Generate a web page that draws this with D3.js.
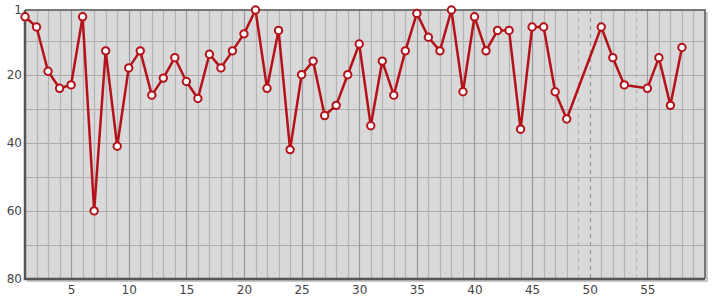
<!DOCTYPE html>
<html>
<head>
<meta charset="utf-8">
<script src="https://cdn.jsdelivr.net/npm/d3@7"></script>
<style>
  body { margin: 0; background: #fff; }
  svg text { font-family: "DejaVu Sans", sans-serif; font-size: 12px; fill: #444; }
</style>
</head>
<body>
<svg id="chart" width="715" height="300"></svg>
<script>
// positions 1..58, null = no value (gap)
const xs_vals = d3.range(1, 59);
const ranks = [3, 6, 19, 24, 23, 3, 60, 13, 41, 18,
               13, 26, 21, 15, 22, 27, 14, 18, 13, 8,
               1, 24, 7, 42, 20, 16, 32, 29, 20, 11,
               35, 16, 26, 13, 2, 9, 13, 1, 25, 3,
               13, 7, 7, 36, 6, 6, 25, 33, null, null,
               6, 15, 23, null, 24, 15, 29, 12];
const xTicks = [5, 10, 15, 20, 25, 30, 35, 40, 45, 50, 55];
const yTicks = [1, 20, 40, 60, 80];
const yGrid = [10, 20, 30, 40, 50, 60, 70];

const data = xs_vals.map((x, i) => ({ x: x, y: ranks[i] }));
const points = data.filter(d => d.y !== null);
const gaps = data.filter(d => d.y === null).map(d => d.x);

const pl = 25, pr = 705, pt = 10, pb = 279;
const svg = d3.select('#chart');

const xs = d3.scaleLinear().domain([1, 60]).range([pl, pr]);
const ys = d3.scaleLinear().domain([1, 80]).range([pt, pb]);

svg.append('rect')
    .attr('x', pl).attr('y', pt)
    .attr('width', pr - pl).attr('height', pb - pt)
    .attr('fill', '#d9d9d9');

// shadow right / bottom
svg.append('path')
    .attr('d', `M${pr + 2},${pt + 2}V${pb + 2}H${pl + 2}`)
    .attr('fill', 'none').attr('stroke', '#c8c8c8').attr('stroke-width', 2);

// horizontal grid
svg.append('g').selectAll('line').data(yGrid).enter().append('line')
    .attr('x1', pl).attr('x2', pr)
    .attr('y1', d => Math.round(ys(d)) + 0.5).attr('y2', d => Math.round(ys(d)) + 0.5)
    .attr('stroke', '#ababab').attr('stroke-width', 1.2);

// vertical grid, one per position, darker every 5, dashed where no value
svg.append('g').selectAll('line').data(d3.range(2, 60)).enter().append('line')
    .attr('x1', d => Math.round(xs(d)) + 0.5).attr('x2', d => Math.round(xs(d)) + 0.5)
    .attr('y1', pt).attr('y2', pb)
    .attr('stroke', d => d % 5 === 0 ? '#999' : '#b3b3b3')
    .attr('stroke-width', 1.2)
    .attr('stroke-dasharray', d => gaps.includes(d) ? '4,4' : null);

// top / right frame
svg.append('path')
    .attr('d', `M${pl},${pt}H${pr}V${pb}`)
    .attr('fill', 'none').attr('stroke', '#777').attr('stroke-width', 2);

// left / bottom axis lines
svg.append('path')
    .attr('d', `M${pl},${pt}V${pb}H${pr}`)
    .attr('fill', 'none').attr('stroke', '#555').attr('stroke-width', 2.5);

// axis labels
svg.append('g').attr('transform', `translate(${pl},0)`)
    .call(d3.axisLeft(ys).tickValues(yTicks).tickSize(0).tickPadding(3))
    .call(g => g.select('.domain').remove())
    .selectAll('text').style('font-size', '12px');

svg.append('g').attr('transform', `translate(0,${pb})`)
    .call(d3.axisBottom(xs).tickValues(xTicks).tickSize(0).tickPadding(6))
    .call(g => g.select('.domain').remove())
    .selectAll('text').style('font-size', '12px');

// series line (skips missing positions, joins neighbours)
const line = d3.line().x(d => xs(d.x)).y(d => ys(d.y));
svg.append('path')
    .datum(points)
    .attr('d', line)
    .attr('fill', 'none')
    .attr('stroke', '#b51118')
    .attr('stroke-width', 2.5)
    .attr('stroke-linejoin', 'round');

svg.append('g').selectAll('circle').data(points).enter().append('circle')
    .attr('cx', d => xs(d.x))
    .attr('cy', d => ys(d.y))
    .attr('r', 3.7)
    .attr('fill', '#fff')
    .attr('stroke', '#b51118')
    .attr('stroke-width', 2);
</script>
</body>
</html>
